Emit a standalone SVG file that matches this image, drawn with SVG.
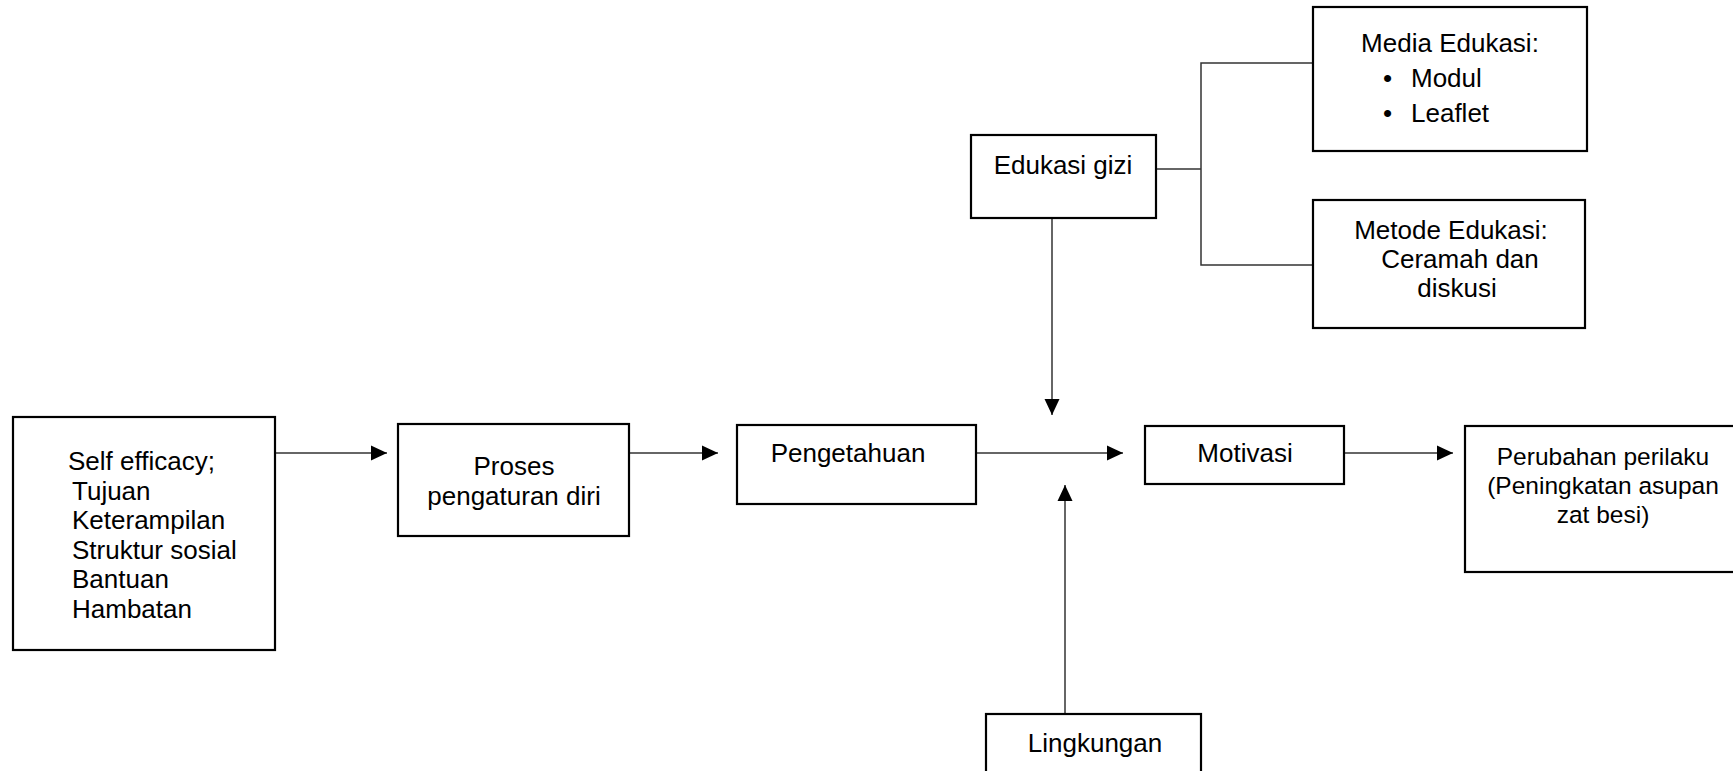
<svg xmlns="http://www.w3.org/2000/svg" width="1733" height="771" viewBox="0 0 1733 771">
<style>
.box{fill:#fff;stroke:#000;stroke-width:2.2}
.ln{fill:none;stroke:#333;stroke-width:1.5}
text{font-family:"Liberation Sans",Arial,sans-serif;font-size:26px;fill:#000}
.c{text-anchor:middle}
.s{font-size:24.5px}
</style>
<defs>
<marker id="ah" markerUnits="userSpaceOnUse" markerWidth="16" markerHeight="16" viewBox="0 0 16 16" refX="16" refY="8" orient="auto">
<path d="M0,0.5 L16,8 L0,15.5 Z" fill="#000"/>
</marker>
</defs>
<g id="connectors">
<line class="ln" x1="275" y1="453" x2="387" y2="453" marker-end="url(#ah)"/>
<line class="ln" x1="629" y1="453" x2="718" y2="453" marker-end="url(#ah)"/>
<line class="ln" x1="976" y1="453" x2="1123" y2="453" marker-end="url(#ah)"/>
<line class="ln" x1="1344" y1="453" x2="1453" y2="453" marker-end="url(#ah)"/>
<line class="ln" x1="1052" y1="218" x2="1052" y2="415" marker-end="url(#ah)"/>
<line class="ln" x1="1065" y1="714" x2="1065" y2="485" marker-end="url(#ah)"/>
<polyline class="ln" points="1156,169 1201,169"/>
<polyline class="ln" points="1313,63 1201,63 1201,265 1313,265"/>
</g>
<g id="self-efficacy">
<rect class="box" x="13" y="417" width="262" height="233"/>
<text x="68" y="470">Self efficacy;</text>
<text x="72" y="499.5">Tujuan</text>
<text x="72" y="529">Keterampilan</text>
<text x="72" y="558.5">Struktur sosial</text>
<text x="72" y="588">Bantuan</text>
<text x="72" y="617.5">Hambatan</text>
</g>
<g id="proses">
<rect class="box" x="398" y="424" width="231" height="112"/>
<text class="c" x="514" y="475">Proses</text>
<text class="c" x="514" y="505">pengaturan diri</text>
</g>
<g id="pengetahuan">
<rect class="box" x="737" y="425" width="239" height="79"/>
<text class="c" x="848" y="462">Pengetahuan</text>
</g>
<g id="motivasi">
<rect class="box" x="1145" y="426" width="199" height="58"/>
<text class="c" x="1245" y="462">Motivasi</text>
</g>
<g id="perubahan">
<rect class="box" x="1465" y="426" width="280" height="146"/>
<text class="c s" x="1603" y="465">Perubahan perilaku</text>
<text class="c s" x="1603" y="494">(Peningkatan asupan</text>
<text class="c s" x="1603" y="523">zat besi)</text>
</g>
<g id="edukasi-gizi">
<rect class="box" x="971" y="135" width="185" height="83"/>
<text class="c" x="1063" y="174">Edukasi gizi</text>
</g>
<g id="media-edukasi">
<rect class="box" x="1313" y="7" width="274" height="144"/>
<text class="c" x="1450" y="52">Media Edukasi:</text>
<text x="1383" y="87">•</text>
<text x="1411" y="87">Modul</text>
<text x="1383" y="122">•</text>
<text x="1411" y="122">Leaflet</text>
</g>
<g id="metode-edukasi">
<rect class="box" x="1313" y="200" width="272" height="128"/>
<text class="c" x="1451" y="239">Metode Edukasi:</text>
<text class="c" x="1460" y="268">Ceramah dan</text>
<text class="c" x="1457" y="297">diskusi</text>
</g>
<g id="lingkungan">
<rect class="box" x="986" y="714" width="215" height="70"/>
<text class="c" x="1095" y="752">Lingkungan</text>
</g>
</svg>
